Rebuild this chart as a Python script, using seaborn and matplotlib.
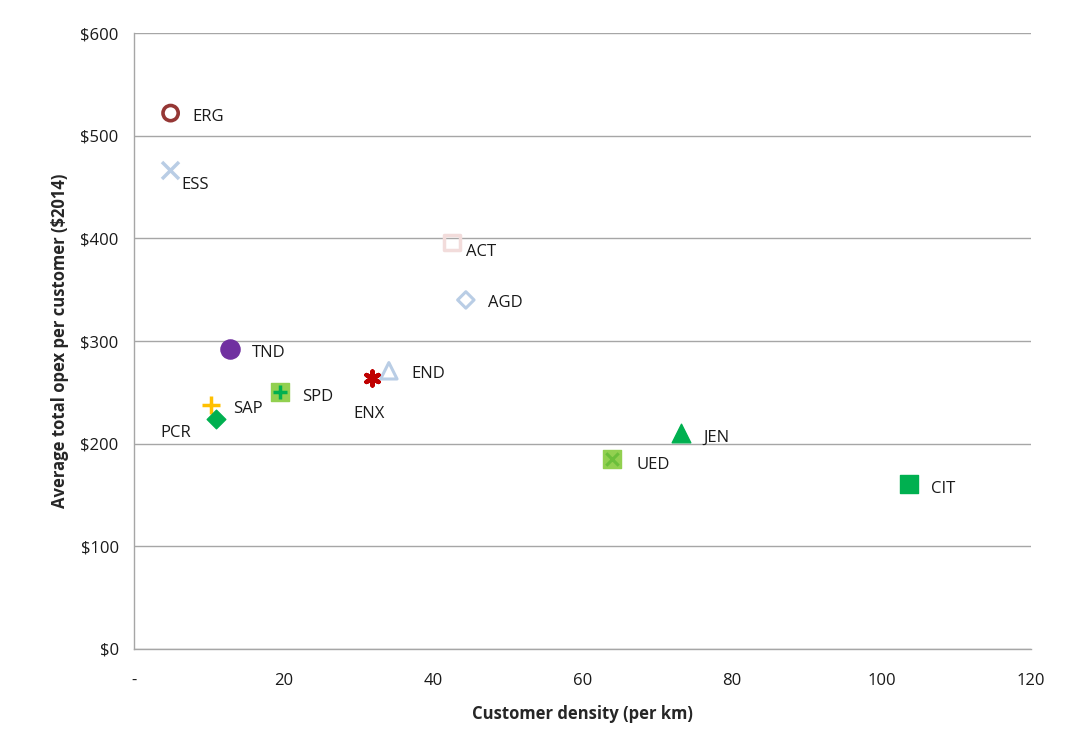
import matplotlib
matplotlib.use("Agg")
import matplotlib.pyplot as plt
import seaborn as sns
import pandas as pd
from matplotlib.ticker import FuncFormatter

sns.set_style("white")
plt.rcParams["font.family"] = ["Open Sans", "DejaVu Sans"]

# Distributor data
codes = ["ERG", "ESS", "ACT", "AGD", "TND", "END", "ENX", "SPD", "SAP", "PCR", "JEN", "UED", "CIT"]
density = [4.9, 4.8, 42.5, 44.4, 12.8, 34.1, 31.8, 19.5, 10.3, 11.0, 73.2, 63.9, 103.7]
opex = [522, 467, 396, 340, 292, 271, 264, 250, 238, 224, 210, 185, 161]

df = pd.DataFrame({"code": codes, "density": density, "opex": opex})

# Marker styles: (marker, face, edge, size, linewidth)
styles = {
    "ERG": ("o", "none", "#953735", 120, 2.6),
    "ESS": ("x", "#B9CDE5", "#B9CDE5", 150, 2.5),
    "ACT": ("s", "none", "#F2DCDB", 130, 2.5),
    "AGD": ("D", "none", "#B9CDE5", 70, 2.2),
    "TND": ("o", "#7030A0", "#7030A0", 190, 1),
    "END": ("^", "none", "#B9CDE5", 140, 2.2),
    "ENX": ((6, 2, 0), "#C00000", "#C00000", 100, 3.2),
    "SPD": ("s", "#92D050", "#92D050", 150, 1),
    "SAP": ("+", "#FFC000", "#FFC000", 150, 2.5),
    "PCR": ("D", "#00B050", "#00B050", 90, 1),
    "JEN": ("^", "#00B050", "#00B050", 180, 1),
    "UED": ("s", "#92D050", "#92D050", 160, 1),
    "CIT": ("s", "#00B050", "#00B050", 180, 1),
}
# Inner glyphs drawn on top of some markers
overlays = {
    "SPD": ("+", "#00B050", 110, 2.5),
    "UED": ("x", "#6BBF3A", 80, 2.2),
}
# Label offsets in points
offsets = {
    "ERG": (16, -3), "ESS": (8, -11), "ACT": (10, -7), "AGD": (16, -2),
    "TND": (16, -3), "END": (16, -2), "ENX": (-13, -26), "SPD": (16, -3),
    "SAP": (16, -3), "PCR": (-40, -10), "JEN": (16, -3), "UED": (18, -4),
    "CIT": (16, -4),
}

fig = plt.figure(figsize=(10.65, 7.47), dpi=100)
ax = fig.add_axes([0.1258, 0.1312, 0.8422, 0.8246])

for _, row in df.iterrows():
    m, fc, ec, s, lw = styles[row.code]
    sub = df[df.code == row.code]
    sns.scatterplot(data=sub, x="density", y="opex", marker=m, s=s,
                    color=fc if fc != "none" else ec,
                    facecolor=fc, edgecolor=ec, linewidth=lw, ax=ax, zorder=3)
    if row.code in overlays:
        om, oc, os_, olw = overlays[row.code]
        sns.scatterplot(data=sub, x="density", y="opex", marker=om, s=os_,
                        color=oc, linewidth=olw, ax=ax, zorder=4)
    ax.annotate(row.code, (row.density, row.opex), xytext=offsets[row.code],
                textcoords="offset points", fontsize=12, color="#1a1a1a",
                va="center", ha="left")

ax.set_xlim(0, 120)
ax.set_ylim(0, 600)
ax.set_xticks(range(0, 121, 20))
ax.set_yticks(range(0, 601, 100))
ax.xaxis.set_major_formatter(FuncFormatter(lambda v, p: "-" if v == 0 else f"{int(v)}"))
ax.yaxis.set_major_formatter(FuncFormatter(lambda v, p: f"${int(v)}"))
ax.yaxis.grid(True, color="#A6A6A6", linewidth=1)
ax.set_axisbelow(True)
for side in ("top", "right"):
    ax.spines[side].set_visible(False)
for side in ("left", "bottom"):
    ax.spines[side].set_color("#A6A6A6")
    ax.spines[side].set_linewidth(1)
ax.tick_params(axis="both", direction="out", length=5, color="#A6A6A6",
               labelsize=12, labelcolor="#1a1a1a", pad=6)
ax.tick_params(axis="x", pad=12)
ax.set_xlabel("Customer density (per km)", fontsize=12, fontweight="bold", labelpad=12)
ax.set_ylabel("Average total opex per customer ($2014)", fontsize=12, fontweight="bold", labelpad=8)

fig.savefig("out.png", dpi=100)
